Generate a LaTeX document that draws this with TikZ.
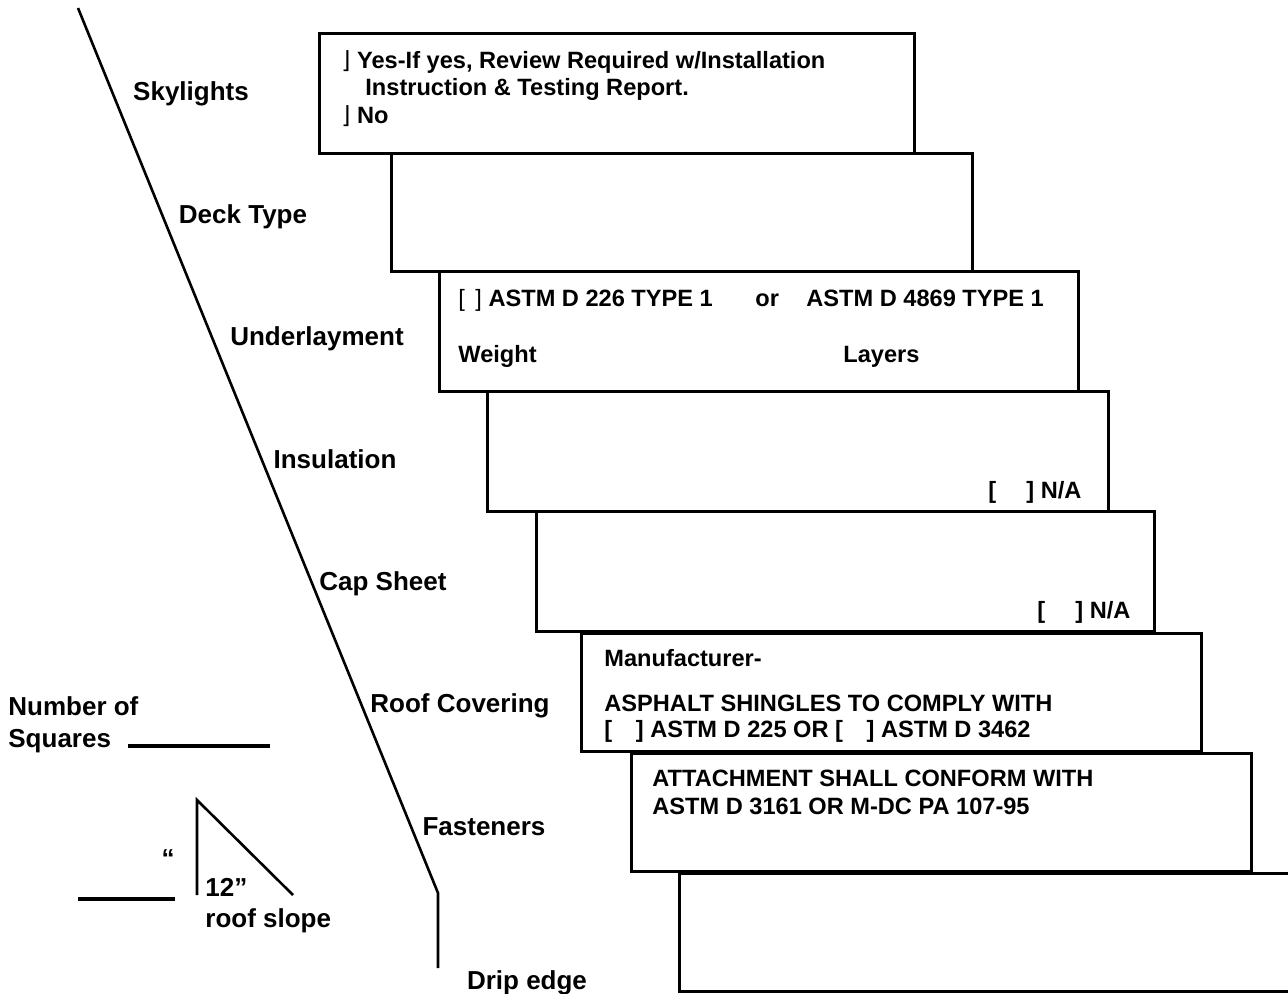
\documentclass[tikz,border=0pt]{standalone}
\usepackage{fontspec}
\setmainfont{Liberation Sans}
\newfontfamily\boxsym{DejaVu Sans}
\usepackage{tikz}
\usetikzlibrary{positioning,calc}

\begin{document}
\begin{tikzpicture}[
    x=0.5pt, y=-0.5pt,
    layerbox/.style={rectangle, draw, line width=1.5pt, anchor=north west, inner sep=0pt},
    partlabel/.style={font=\fontsize{13}{15}\selectfont\bfseries, inner sep=0pt, text height=9.3pt, text depth=0pt},
    boxtext/.style={font=\fontsize{11.8}{14}\selectfont\bfseries, anchor=west, inner sep=0pt, text height=8.5pt, text depth=0pt},
    roofline/.style={line width=1.3pt}
]
\useasboundingbox (0,0) rectangle (1288,994);

% Stepped layer boxes
\node[layerbox, minimum width=297.5pt, minimum height=60pt] (skylight) at (318,32) {};
\node[layerbox, minimum width=290.5pt, minimum height=59pt] (deck) at (390,152) {};
\node[layerbox, minimum width=319.5pt, minimum height=60pt] (underlay) at (438,270) {};
\node[layerbox, minimum width=310.5pt, minimum height=60pt] (insul) at (486,390) {};
\node[layerbox, minimum width=309pt, minimum height=60pt] (capsheet) at (535,510) {};
\node[layerbox, minimum width=310pt, minimum height=59pt] (covering) at (580,632) {};
\node[layerbox, minimum width=310pt, minimum height=59pt] (fasten) at (630,752) {};
\node[layerbox, minimum width=320pt, minimum height=59pt] (drip) at (678,872) {};

% Box contents
\node[boxtext] (skyyes) at (341,60) {{\boxsym\mdseries ⌋} Yes-If yes, Review Required w/Installation};
\node[boxtext] (skyrep) at (365,87) {Instruction \& Testing Report.};
\node[boxtext] (skyno) at (341,115) {{\boxsym\mdseries ⌋} No};
\node[boxtext] (astm1) at (458,298) {{\mdseries [ \,]} ASTM D 226 TYPE 1};
\node[boxtext] (astmor) at (755,298) {or};
\node[boxtext] (astm2) at (806,298) {ASTM D 4869 TYPE 1};
\node[boxtext] (weight) at (458,354) {Weight};
\node[boxtext] (layers) at (843,354) {Layers};
\node[boxtext] (insulna) at (988,490) {[\quad\ ] N/A};
\node[boxtext] (capna) at (1037,610) {[\quad\ ] N/A};
\node[boxtext] (manuf) at (604,658) {Manufacturer-};
\node[boxtext] (shingle) at (604,703) {ASPHALT SHINGLES TO COMPLY WITH};
\node[boxtext] (shastm) at (604,729) {[\quad] ASTM D 225 OR [\quad] ASTM D 3462};
\node[boxtext] (attach) at (652,778) {ATTACHMENT SHALL CONFORM WITH};
\node[boxtext] (attastm) at (652,806) {ASTM D 3161 OR M-DC PA 107-95};

% Roof edge line
\coordinate (ridge) at (78,8);
\coordinate (eave) at (438,893);
\coordinate (dripend) at (438,968);
\draw[roofline] (ridge) -- (eave) -- (dripend);

% Layer names
\node[partlabel] (lblsky) at (191,91) {Skylights};
\node[partlabel] (lbldeck) at (243,214) {Deck Type};
\node[partlabel] (lblunder) at (317,336) {Underlayment};
\node[partlabel] (lblinsul) at (335,459) {Insulation};
\node[partlabel] (lblcap) at (383,581) {Cap Sheet};
\node[partlabel] (lblcover) at (460,703) {Roof Covering};
\node[partlabel] (lblfasten) at (484,826) {Fasteners};
\node[partlabel] (lbldrip) at (527,980) {Drip edge};

% Number of squares
\node[partlabel, anchor=west] (numof) at (8,706) {Number of};
\node[partlabel, anchor=west] (squares) at (8,738) {Squares};
\coordinate (sqstart) at (128,746);
\coordinate (sqend) at (270,746);
\draw[line width=1.6pt] (sqstart) -- (sqend);

% Roof slope triangle
\coordinate (slopetop) at (197,800);
\coordinate (slopebot) at (197,895);
\coordinate (slopeend) at (293,895);
\draw[roofline] (slopebot) -- (slopetop) -- (slopeend);
\coordinate (risestart) at (78,899);
\coordinate (riseend) at (175,899);
\draw[line width=2pt] (risestart) -- (riseend);
\node[partlabel] (inchmark) at (168,858) {“};
\node[partlabel, anchor=west] (twelve) at (205,887) {12”};
\node[partlabel, anchor=west] (slopelbl) at (205,918) {roof slope};

\end{tikzpicture}
\end{document}
